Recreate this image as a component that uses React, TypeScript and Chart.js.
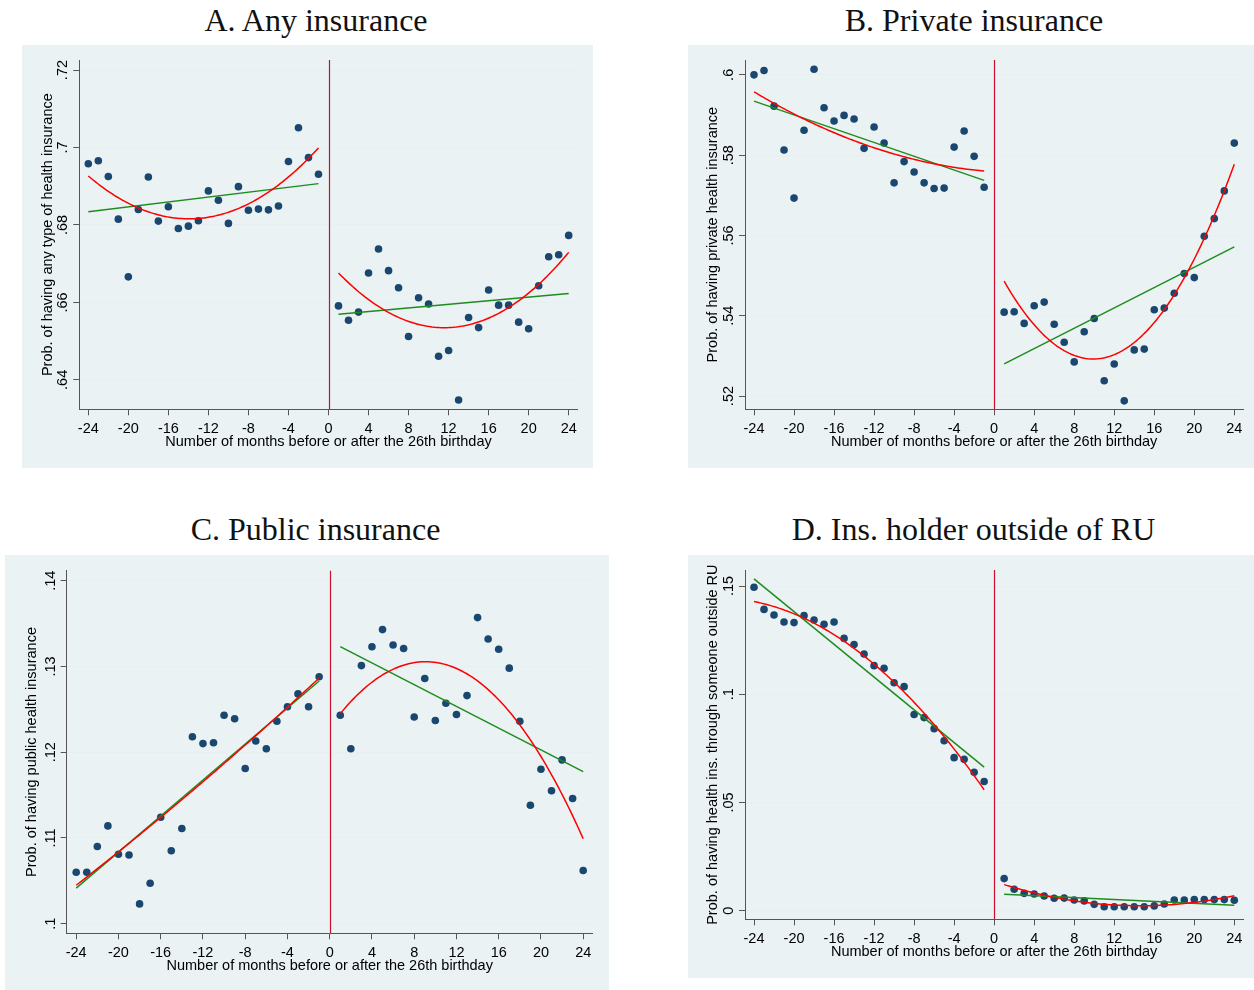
import React, { useEffect, useRef } from "react";
import { Chart, registerables } from "chart.js";

Chart.register(...registerables);

// ---------------- DATA ----------------
const monthsBefore = [-24, -23, -22, -21, -20, -19, -18, -17, -16, -15, -14, -13, -12, -11, -10, -9, -8, -7, -6, -5, -4, -3, -2, -1];
const monthsAfter = [1, 2, 3, 4, 5, 6, 7, 8, 9, 10, 11, 12, 13, 14, 15, 16, 17, 18, 19, 20, 21, 22, 23, 24];

const anyBefore = [0.6958, 0.6966, 0.6925, 0.6815, 0.6666, 0.6840, 0.6924, 0.6810, 0.6847, 0.6791, 0.6797, 0.6811, 0.6888, 0.6864, 0.6804, 0.6899, 0.6838, 0.6841, 0.6839, 0.6849, 0.6964, 0.7051, 0.6974, 0.6931];
const anyAfter = [0.6591, 0.6554, 0.6575, 0.6676, 0.6738, 0.6682, 0.6638, 0.6512, 0.6612, 0.6596, 0.6461, 0.6476, 0.6348, 0.6561, 0.6535, 0.6632, 0.6593, 0.6593, 0.6549, 0.6532, 0.6643, 0.6718, 0.6723, 0.6773];

const privateBefore = [0.6000, 0.6011, 0.5922, 0.5813, 0.5693, 0.5862, 0.6014, 0.5918, 0.5885, 0.5899, 0.5890, 0.5817, 0.5870, 0.5830, 0.5731, 0.5784, 0.5758, 0.5731, 0.5717, 0.5718, 0.5820, 0.5860, 0.5797, 0.5720];
const privateAfter = [0.5409, 0.5410, 0.5381, 0.5425, 0.5434, 0.5379, 0.5334, 0.5285, 0.5360, 0.5393, 0.5238, 0.5280, 0.5188, 0.5315, 0.5317, 0.5415, 0.5419, 0.5456, 0.5505, 0.5495, 0.5598, 0.5642, 0.5711, 0.5830];

const publicBefore = [0.1060, 0.1060, 0.1090, 0.1114, 0.1081, 0.1080, 0.1023, 0.1047, 0.1124, 0.1085, 0.1111, 0.1218, 0.1210, 0.1211, 0.1243, 0.1239, 0.1181, 0.1213, 0.1204, 0.1236, 0.1253, 0.1268, 0.1253, 0.1288];
const publicAfter = [0.1243, 0.1204, 0.1301, 0.1323, 0.1343, 0.1325, 0.1321, 0.1241, 0.1286, 0.1237, 0.1257, 0.1244, 0.1266, 0.1357, 0.1332, 0.1320, 0.1298, 0.1236, 0.1138, 0.1180, 0.1155, 0.1191, 0.1146, 0.1062];

const outsideBefore = [0.1494, 0.1392, 0.1366, 0.1334, 0.1331, 0.1363, 0.1343, 0.1323, 0.1334, 0.1258, 0.1230, 0.1186, 0.1132, 0.1120, 0.1053, 0.1035, 0.0906, 0.0892, 0.0841, 0.0785, 0.0707, 0.0699, 0.0639, 0.0597];
const outsideAfter = [0.0148, 0.0099, 0.0080, 0.0077, 0.0068, 0.0057, 0.0058, 0.0049, 0.0045, 0.0029, 0.0018, 0.0018, 0.0018, 0.0018, 0.0018, 0.0022, 0.0031, 0.0049, 0.0049, 0.0051, 0.0051, 0.0051, 0.0051, 0.0048];

const xTickValues = [-24, -20, -16, -12, -8, -4, 0, 4, 8, 12, 16, 20, 24];
const xTickLabels = ["-24", "-20", "-16", "-12", "-8", "-4", "0", "4", "8", "12", "16", "20", "24"];

const anyTickValues = [0.64, 0.66, 0.68, 0.7, 0.72];
const anyTickLabels = [".64", ".66", ".68", ".7", ".72"];
const privateTickValues = [0.52, 0.54, 0.56, 0.58, 0.6];
const privateTickLabels = [".52", ".54", ".56", ".58", ".6"];
const publicTickValues = [0.1, 0.11, 0.12, 0.13, 0.14];
const publicTickLabels = [".1", ".11", ".12", ".13", ".14"];
const outsideTickValues = [0, 0.05, 0.1, 0.15];
const outsideTickLabels = ["0", ".05", ".1", ".15"];

const cutoffMonth = 0;
const xAxisTitle = "Number of months before or after the 26th birthday";

// ---------------- FITS (least squares, like Stata lfit / qfit) ----------------
function polyfit(xs: number[], ys: number[], deg: number): number[] {
  const n = deg + 1;
  const A: number[][] = [];
  for (let i = 0; i < n; i++) {
    A.push(new Array(n + 1).fill(0));
  }
  for (let k = 0; k < xs.length; k++) {
    for (let i = 0; i < n; i++) {
      for (let j = 0; j < n; j++) A[i][j] += Math.pow(xs[k], i + j);
      A[i][n] += ys[k] * Math.pow(xs[k], i);
    }
  }
  for (let c = 0; c < n; c++) {
    let p = c;
    for (let r = c + 1; r < n; r++) if (Math.abs(A[r][c]) > Math.abs(A[p][c])) p = r;
    const t = A[c]; A[c] = A[p]; A[p] = t;
    for (let r = 0; r < n; r++) {
      if (r === c) continue;
      const f = A[r][c] / A[c][c];
      for (let k = c; k <= n; k++) A[r][k] -= f * A[c][k];
    }
  }
  return A.map((row, i) => row[n] / A[i][i]);
}

function fitCurve(xs: number[], ys: number[], deg: number) {
  const coef = polyfit(xs, ys, deg);
  const x0 = xs[0];
  const x1 = xs[xs.length - 1];
  const steps = deg === 1 ? 1 : 96;
  const pts: { x: number; y: number }[] = [];
  for (let s = 0; s <= steps; s++) {
    const x = x0 + ((x1 - x0) * s) / steps;
    let y = 0;
    for (let i = 0; i < coef.length; i++) y += coef[i] * Math.pow(x, i);
    pts.push({ x, y });
  }
  return pts;
}

const toPts = (xs: number[], ys: number[]) => xs.map((x, i) => ({ x, y: ys[i] }));

// ---------------- STYLE ----------------
const NAVY = "#1a476f";
const GREEN = "#1e8c1e";
const RED = "#ff0000";
const XLINE = "#c8102e";
const AXIS = "#555555";
const GRID = "#e6eff1";
const BG = "#eaf2f3";
const SANS = "'Liberation Sans', Arial, Helvetica, sans-serif";
const SERIF = "'Liberation Serif', 'Times New Roman', serif";
const AXIS_FONT = 14.5;
const TITLE_FONT = 32;

type PanelCfg = {
  title: string;
  titleX: number;
  titleTop: number;
  region: { left: number; top: number; width: number; height: number };
  plot: { left: number; top: number; right: number; bottom: number };
  yMin: number;
  yMax: number;
  yTicks: number[];
  yLabels: string[];
  yTitle: string;
  yTitleCenter: number;
  before: number[];
  after: number[];
};

const panels: PanelCfg[] = [
  {
    title: "A. Any insurance",
    titleX: 316,
    titleTop: 3.5,
    region: { left: 22, top: 45, width: 571, height: 423 },
    plot: { left: 79.3, top: 60, right: 577.7, bottom: 409.3 },
    yMin: 0.6324,
    yMax: 0.7226,
    yTicks: anyTickValues,
    yLabels: anyTickLabels,
    yTitle: "Prob. of having any type of health insurance",
    yTitleCenter: 48,
    before: anyBefore,
    after: anyAfter,
  },
  {
    title: "B. Private insurance",
    titleX: 974,
    titleTop: 3.5,
    region: { left: 688, top: 45, width: 566, height: 423 },
    plot: { left: 745, top: 60, right: 1243.3, bottom: 409.3 },
    yMin: 0.5167,
    yMax: 0.6037,
    yTicks: privateTickValues,
    yLabels: privateTickLabels,
    yTitle: "Prob. of having private health insurance",
    yTitleCenter: 713,
    before: privateBefore,
    after: privateAfter,
  },
  {
    title: "C. Public insurance",
    titleX: 315.5,
    titleTop: 513,
    region: { left: 5, top: 555, width: 604, height: 435 },
    plot: { left: 66.7, top: 570.7, right: 592.7, bottom: 933.3 },
    yMin: 0.09887,
    yMax: 0.14117,
    yTicks: publicTickValues,
    yLabels: publicTickLabels,
    yTitle: "Prob. of having public health insurance",
    yTitleCenter: 32,
    before: publicBefore,
    after: publicAfter,
  },
  {
    title: "D. Ins. holder outside of RU",
    titleX: 973.5,
    titleTop: 513,
    region: { left: 688, top: 555, width: 566, height: 423 },
    plot: { left: 745, top: 570, right: 1243.3, bottom: 919.3 },
    yMin: -0.004,
    yMax: 0.1574,
    yTicks: outsideTickValues,
    yLabels: outsideTickLabels,
    yTitle: "Prob. of having health ins. through someone outside RU",
    yTitleCenter: 712.5,
    before: outsideBefore,
    after: outsideAfter,
  },
];

const xlinePlugin = {
  id: "cutoffLine",
  beforeDatasetsDraw(chart: any) {
    const { ctx, chartArea, scales } = chart;
    const px = Math.round(scales.x.getPixelForValue(cutoffMonth)) + 0.5;
    ctx.save();
    ctx.strokeStyle = XLINE;
    ctx.lineWidth = 1.2;
    ctx.beginPath();
    ctx.moveTo(px, chartArea.top);
    ctx.lineTo(px, chartArea.bottom);
    ctx.stroke();
    ctx.restore();
  },
};

function Panel({ cfg }: { cfg: PanelCfg }) {
  const ref = useRef<HTMLCanvasElement | null>(null);
  useEffect(() => {
    if (!ref.current) return;
    const { region, plot } = cfg;
    const yWidth = plot.left - region.left;
    const xHeight = region.top + region.height - plot.bottom;
    const padTop = plot.top - region.top;
    const padRight = region.left + region.width - plot.right;
    const lh = AXIS_FONT * 1.2;
    const yTitlePad = cfg.yTitleCenter - region.left - lh / 2;
    const xTitlePad = xHeight - 32.5 - lh / 2;

    const lineDs = (data: any[], color: string, order: number) => ({
      data,
      showLine: true,
      borderColor: color,
      backgroundColor: color,
      borderWidth: 1.5,
      pointRadius: 0,
      pointHoverRadius: 0,
      tension: 0,
      fill: false,
      order,
    });
    const dotDs = (data: any[]) => ({
      data,
      showLine: false,
      backgroundColor: NAVY,
      borderColor: NAVY,
      borderWidth: 0,
      pointRadius: 3.8,
      pointHoverRadius: 3.8,
      order: 10,
    });

    const chart = new Chart(ref.current, {
      type: "scatter",
      data: {
        datasets: [
          lineDs(fitCurve(monthsBefore, cfg.before, 2), RED, 0),
          lineDs(fitCurve(monthsAfter, cfg.after, 2), RED, 0),
          lineDs(fitCurve(monthsBefore, cfg.before, 1), GREEN, 1),
          lineDs(fitCurve(monthsAfter, cfg.after, 1), GREEN, 1),
          dotDs(toPts(monthsBefore, cfg.before)),
          dotDs(toPts(monthsAfter, cfg.after)),
        ] as any,
      },
      options: {
        animation: false,
        responsive: false,
        maintainAspectRatio: false,
        events: [],
        layout: { padding: { left: 0, top: padTop, right: padRight, bottom: 0 } },
        plugins: { legend: { display: false }, tooltip: { enabled: false } },
        scales: {
          x: {
            type: "linear",
            min: -24.9,
            max: 24.9,
            afterBuildTicks: (s: any) => {
              s.ticks = xTickValues.map((v) => ({ value: v }));
            },
            afterFit: (s: any) => {
              s.height = xHeight;
            },
            ticks: {
              autoSkip: false,
              minRotation: 0,
              maxRotation: 0,
              padding: 5,
              color: "#000",
              font: { family: SANS, size: AXIS_FONT },
              callback: (_v: any, i: number) => xTickLabels[i],
            },
            grid: { drawOnChartArea: false, drawTicks: true, tickLength: 6, tickColor: AXIS, color: AXIS },
            border: { display: true, color: AXIS, width: 1 },
            title: {
              display: true,
              text: xAxisTitle,
              color: "#000",
              font: { family: SANS, size: AXIS_FONT },
              padding: { top: 0, bottom: xTitlePad },
            },
          },
          y: {
            type: "linear",
            min: cfg.yMin,
            max: cfg.yMax,
            afterBuildTicks: (s: any) => {
              s.ticks = cfg.yTicks.map((v) => ({ value: v }));
            },
            afterFit: (s: any) => {
              s.width = yWidth;
            },
            ticks: {
              autoSkip: false,
              minRotation: 90,
              maxRotation: 90,
              crossAlign: "center",
              padding: 0,
              color: "#000",
              font: { family: SANS, size: AXIS_FONT },
              callback: (_v: any, i: number) => cfg.yLabels[i],
            },
            grid: { drawOnChartArea: true, drawTicks: true, tickLength: 6, tickColor: AXIS, color: GRID, lineWidth: 1 },
            border: { display: true, color: AXIS, width: 1 },
            title: {
              display: true,
              text: cfg.yTitle,
              color: "#000",
              font: { family: SANS, size: AXIS_FONT },
              padding: { top: yTitlePad, bottom: 0 },
            },
          },
        },
      } as any,
      plugins: [xlinePlugin],
    });
    return () => chart.destroy();
  }, [cfg]);

  const { region } = cfg;
  return (
    <>
      <div
        style={{
          position: "absolute",
          left: region.left,
          top: region.top,
          width: region.width,
          height: region.height,
          background: BG,
        }}
      />
      <div
        style={{
          position: "absolute",
          left: cfg.titleX - 250,
          width: 500,
          top: cfg.titleTop,
          textAlign: "center",
          fontFamily: SERIF,
          fontSize: TITLE_FONT,
          lineHeight: TITLE_FONT + "px",
          color: "#111",
          whiteSpace: "nowrap",
        }}
      >
        {cfg.title}
      </div>
      <canvas
        ref={ref}
        width={region.width}
        height={region.height}
        style={{
          position: "absolute",
          left: region.left,
          top: region.top,
          width: region.width,
          height: region.height,
        }}
      />
    </>
  );
}

export default function App() {
  return (
    <div
      style={{
        position: "absolute",
        left: 0,
        top: 0,
        width: 1254,
        height: 990,
        background: "#ffffff",
        overflow: "hidden",
      }}
    >
      {panels.map((p) => (
        <Panel key={p.title} cfg={p} />
      ))}
    </div>
  );
}
